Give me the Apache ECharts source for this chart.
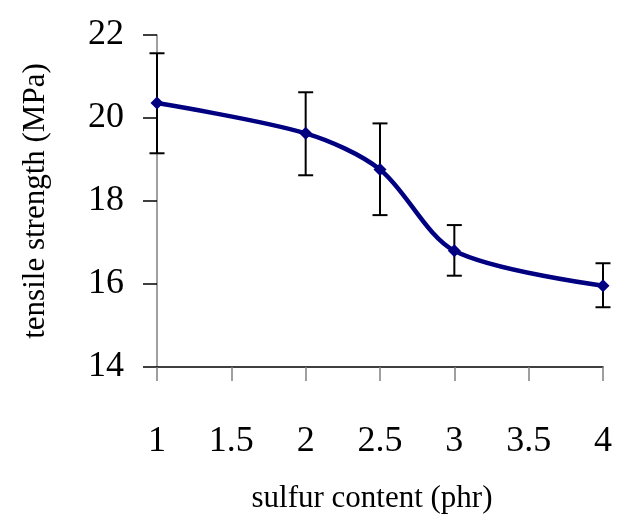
<!DOCTYPE html>
<html>
<head>
<meta charset="utf-8">
<script src="https://cdn.jsdelivr.net/npm/echarts@6/dist/echarts.min.js"></script>
<style>
html,body{margin:0;padding:0;background:#fff;}
#c{width:618px;height:521px;}
</style>
</head>
<body>
<div id="c"></div>
<script>
const sulfur = [1, 2, 2.5, 3, 4];
const strength = [20.36, 19.63, 18.76, 16.8, 15.96];
const errLow = [19.15, 18.62, 17.66, 16.2, 15.44];
const errHigh = [21.56, 20.62, 19.87, 17.42, 16.5];
const xTicks = [1, 1.5, 2, 2.5, 3, 3.5, 4];
const yTicks = [14, 16, 18, 20, 22];

const font = 'Liberation Serif, Times New Roman, serif';
const chart = echarts.init(document.getElementById('c'));

const errData = sulfur.map((x, i) => [x, errLow[i], errHigh[i]]);

chart.setOption({
  animation: false,
  grid: { left: 157, right: 15, top: 35, bottom: 154 },
  xAxis: {
    type: 'value',
    min: xTicks[0], max: xTicks[xTicks.length - 1], interval: 0.5,
    name: 'sulfur content (phr)',
    nameLocation: 'middle',
    nameGap: 116,
    nameTextStyle: { fontFamily: font, fontSize: 31, color: '#000', padding: [0, 16, 0, 0] },
    axisLine: { lineStyle: { color: '#000', width: 1.5 } },
    axisTick: { length: 14, lineStyle: { color: '#808080', width: 1.5 } },
    axisLabel: { fontFamily: font, fontSize: 36, color: '#000', margin: 57,
      formatter: v => String(xTicks.find(t => Math.abs(t - v) < 1e-9) ?? v) },
    splitLine: { show: false }
  },
  yAxis: {
    type: 'value',
    min: yTicks[0], max: yTicks[yTicks.length - 1], interval: 2,
    name: 'tensile strength (MPa)',
    nameLocation: 'middle',
    nameGap: 106,
    nameTextStyle: { fontFamily: font, fontSize: 31, color: '#000' },
    axisLine: { show: true, lineStyle: { color: '#808080', width: 1.5 } },
    axisTick: { show: true, length: 14, lineStyle: { color: '#000', width: 1.5 } },
    axisLabel: { fontFamily: font, fontSize: 36, color: '#000', margin: 33 },
    splitLine: { show: false }
  },
  series: [
    {
      type: 'line',
      data: sulfur.map((x, i) => [x, strength[i]]),
      smooth: 0.3,
      symbol: 'diamond',
      symbolSize: 13,
      lineStyle: { color: '#000080', width: 4.5 },
      itemStyle: { color: '#000080' },
      z: 3
    },
    {
      type: 'custom',
      data: errData,
      z: 2,
      renderItem: function (params, api) {
        const x = api.value(0);
        const lo = api.coord([x, api.value(1)]);
        const hi = api.coord([x, api.value(2)]);
        const hw = 7.5;
        const style = { stroke: '#000', lineWidth: 2 };
        return {
          type: 'group',
          children: [
            { type: 'line', shape: { x1: lo[0], y1: lo[1], x2: hi[0], y2: hi[1] }, style },
            { type: 'line', shape: { x1: hi[0] - hw, y1: hi[1], x2: hi[0] + hw, y2: hi[1] }, style },
            { type: 'line', shape: { x1: lo[0] - hw, y1: lo[1], x2: lo[0] + hw, y2: lo[1] }, style }
          ]
        };
      }
    }
  ]
});
</script>
</body>
</html>
